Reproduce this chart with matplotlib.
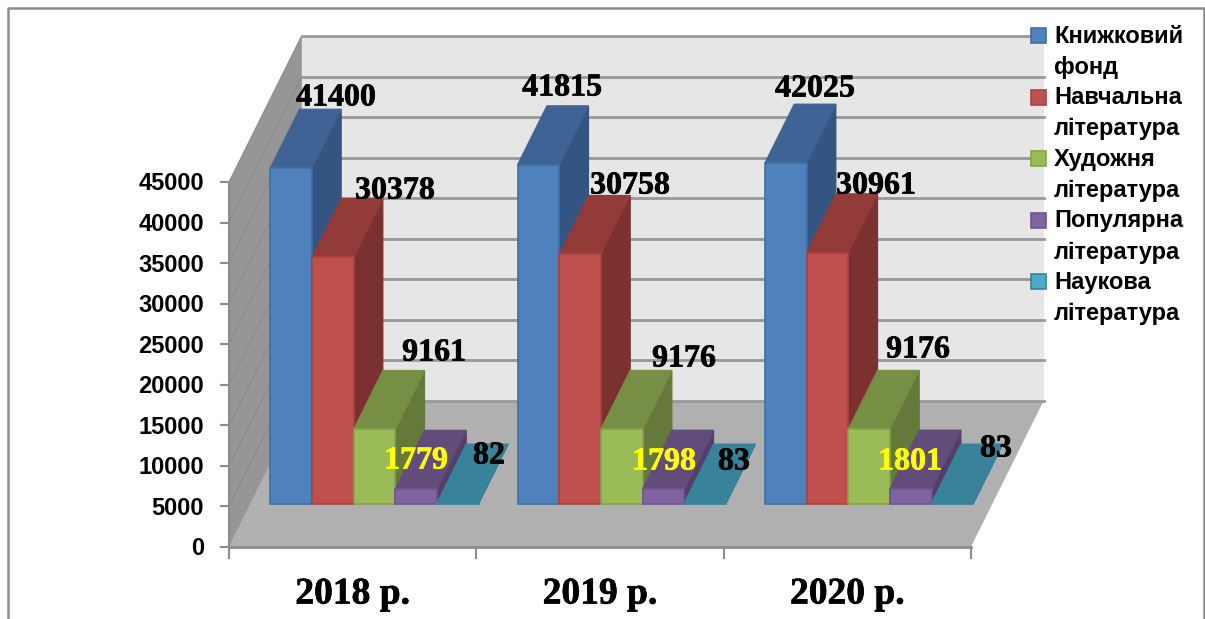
import numpy as np
import matplotlib
matplotlib.use("Agg")
import matplotlib.pyplot as plt
import matplotlib.patheffects as pe
from matplotlib.patches import Polygon, Rectangle

years = ["2018 р.", "2019 р.", "2020 р."]
series_names = [
    "Книжковий\nфонд",
    "Навчальна\nлітература",
    "Художня\nлітература",
    "Популярна\nлітература",
    "Наукова\nлітература",
]
book_fund = [41400, 41815, 42025]
study_lit = [30378, 30758, 30961]
fiction_lit = [9161, 9176, 9176]
popular_lit = [1779, 1798, 1801]
science_lit = [82, 83, 83]
y_ticks = [0, 5000, 10000, 15000, 20000, 25000, 30000, 35000, 40000, 45000]

# (front, top, side, edge)
colors = [
    ("#4f81bd", "#3e6394", "#345582", "#3f6ea6"),
    ("#c0504d", "#933b39", "#7b3130", "#a84543"),
    ("#9bbb59", "#778f44", "#65793a", "#86a34b"),
    ("#8064a2", "#624c7c", "#533f6a", "#6d5590"),
    ("#4bacc6", "#38839a", "#2f7084", "#38839a"),
]

# label anchor (pixel centre), one row per series, these were moved by hand in the original
label_x = [[336, 562, 815], [395, 630, 876], [434, 684, 918], [416, 664, 910], [489, 734, 996]]
label_y = [[98, 88, 89], [191, 186, 186], [353, 359, 350], [461, 462, 462], [456, 462, 449]]
label_col = ["black", "black", "black", "#ffff00", "black"]

# oblique projection of the 3d box to picture pixels
X0, X1 = 229.0, 971.0
Y0 = 546.7
Y_SCALE = (546.7 - 182.0) / 45000
DX, DY = 72.5, -145.7
N = len(years)
CAT_W = (X1 - X0) / N
BAR_W = 0.1685
BAR_GAP = 0.08
D_FRONT, D_BACK = 0.296, 0.70


def proj(cat, val, depth):
    """cat in category units, val in data units, depth 0 front to 1 back."""
    return (X0 + cat * CAT_W + depth * DX, Y0 - val * Y_SCALE + depth * DY)


def heavy(col, w=0.5):
    # the reference text is a blurred paste, plain bold looks too thin next to it
    return [pe.withStroke(linewidth=w, foreground=col)]


def draw_bar(ax, cat, val, col):
    front, top, side, edge = col
    x0, x1 = cat, cat + BAR_W
    a, b = D_FRONT, D_BACK
    ax.add_patch(Polygon([proj(x1, 0, a), proj(x1, 0, b), proj(x1, val, b), proj(x1, val, a)],
                         fc=side, ec=side, lw=0.8, zorder=3))
    ax.add_patch(Polygon([proj(x0, val, a), proj(x1, val, a), proj(x1, val, b), proj(x0, val, b)],
                         fc=top, ec=top, lw=0.8, zorder=3))
    ax.add_patch(Polygon([proj(x0, 0, a), proj(x1, 0, a), proj(x1, val, a), proj(x0, val, a)],
                         fc=front, ec=edge, lw=1.2, zorder=3))


fig = plt.figure(figsize=(12.05, 6.19), dpi=100)
ax = fig.add_axes([0, 0, 1, 1])
ax.set_xlim(0, 1205)
ax.set_ylim(619, 0)
ax.axis("off")

# frame of the pasted chart, bottom runs off the picture
ax.plot([7.5, 7.5, 1204, 1204], [640, 7.5, 7.5, 640], color="#8c8c8c", lw=1.8)

top_val = y_ticks[-1]
# walls and floor
ax.add_patch(Polygon([proj(0, 0, 0), proj(0, 0, 1), proj(0, top_val, 1), proj(0, top_val, 0)],
                     fc="#969696", ec="#969696", lw=0.5))
ax.add_patch(Polygon([proj(0, 0, 1), proj(N, 0, 1), proj(N, top_val, 1), proj(0, top_val, 1)],
                     fc="#e6e6e6", ec="none"))
ax.add_patch(Polygon([proj(0, 0, 0), proj(N, 0, 0), proj(N, 0, 1), proj(0, 0, 1)],
                     fc="#b0b0b0", ec="none"))

for v in y_ticks:
    p0, p1, p2 = proj(0, v, 0), proj(0, v, 1), proj(N, v, 1)
    if v > 0:
        ax.plot([p0[0], p1[0]], [p0[1], p1[1]], color="#868686", lw=0.6, zorder=2)
    ax.plot([p1[0], p2[0]], [p1[1], p2[1]], color="#989898", lw=2.0, zorder=2)
    ax.plot([p0[0] - 8, p0[0]], [p0[1], p0[1]], color="#8c8c8c", lw=1.5, zorder=2)
    ax.text(p0[0] - 25, p0[1] + 2, str(v), ha="right", va="center", fontsize=17,
            family="Liberation Sans", fontweight="bold", color="black")

# front edges and axis
ax.plot([proj(0, 0, 0)[0], proj(0, top_val, 0)[0]], [proj(0, 0, 0)[1], proj(0, top_val, 0)[1]],
        color="#8c8c8c", lw=1.5, zorder=2)
ax.plot([proj(0, 0, 0)[0], proj(N, 0, 0)[0]], [Y0, Y0], color="#8c8c8c", lw=2.0, zorder=2)
for c in range(N + 1):
    xt = proj(c, 0, 0)[0]
    ax.plot([xt, xt], [Y0, Y0 + 11], color="#8c8c8c", lw=1.5, zorder=2)

# bars
series = [book_fund, study_lit, fiction_lit, popular_lit, science_lit]
for c in range(N):
    for s, vals in enumerate(series):
        draw_bar(ax, c + BAR_GAP + s * BAR_W, vals[c], colors[s])

# value labels
for s, vals in enumerate(series):
    for c in range(N):
        ax.text(label_x[s][c], label_y[s][c], str(vals[c]), ha="center", va="center", fontsize=23,
                family="Liberation Serif", fontweight="bold", color=label_col[s], zorder=6,
                path_effects=heavy(label_col[s]))

# category labels
for c in range(N):
    ax.text(proj(c + 0.5, 0, 0)[0], 594, years[c], ha="center", va="center", fontsize=27,
            family="Liberation Serif", fontweight="bold", color="black",
            path_effects=heavy("black"))

# legend
for s, name in enumerate(series_names):
    ly = 35.5 + s * 61.5
    ax.add_patch(Rectangle((1031, ly - 7.5), 15, 15, fc=colors[s][0], ec=colors[s][3], lw=1.2, zorder=5))
    first, second = name.split("\n")
    ax.text(1054, ly + 1, first, ha="left", va="center", fontsize=17, family="Liberation Sans",
            fontweight="bold", color="black", zorder=5)
    ax.text(1054, ly + 32, second, ha="left", va="center", fontsize=17, family="Liberation Sans",
            fontweight="bold", color="black", zorder=5)

fig.savefig("out.png", dpi=100)
